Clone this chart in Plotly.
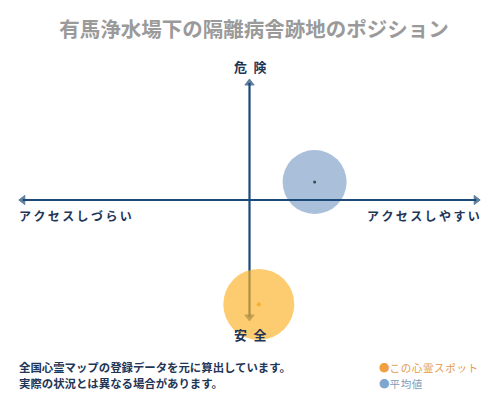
import plotly.graph_objects as go

# ---- data ----
series_names = ["この心霊スポット", "平均値"]
access_values = [0.04, 0.28]      # x: アクセスしづらい(-) ... アクセスしやすい(+)
danger_values = [-0.87, 0.15]     # y: 安全(-) ... 危険(+)
bubble_colors = ["rgba(252,178,40,0.66)", "rgba(134,164,201,0.7)"]
dot_colors = ["#f5a21f", "#111111"]

title_text = "有馬浄水場下の隔離病舎跡地のポジション"
label_top = "危\u2002険"
label_bottom = "安\u2002全"
label_left = "\u2009".join("アクセスしづらい")
label_right = "\u2009".join("アクセスしやすい")
footer_lines = ["全国心霊マップの登録データを元に算出しています。",
                "実際の状況とは異なる場合があります。"]

AXIS = "#1c4a78"
NAVY = "#1f3657"
FONT = "Noto Sans CJK JP"
OFF = 8  # page body margin offset

W, H = 500 - OFF, 400 - OFF
L, R = 17 - OFF, 482 - OFF
T, B = 80 - OFF, 320 - OFF

fig = go.Figure()

fig.add_trace(go.Scatter(x=[access_values[1]], y=[danger_values[1]], mode="markers",
                         marker=dict(size=64, color=bubble_colors[1], line=dict(width=0)),
                         cliponaxis=False, hoverinfo="skip", showlegend=False))

E = 0.975
fig.add_trace(go.Scatter(
    x=[0, E, None, 0, -E, None, 0, 0, None, 0, 0],
    y=[0, 0, None, 0, 0, None, 0, E, None, 0, -E],
    mode="lines+markers",
    line=dict(color=AXIS, width=2.2),
    marker=dict(symbol="triangle-up", angleref="previous",
                size=[0, 8, 0, 0, 8, 0, 0, 8, 0, 0, 8], color=AXIS,
                line=dict(width=1, color=AXIS)),
    cliponaxis=False, hoverinfo="skip", showlegend=False))

fig.add_trace(go.Scatter(x=[access_values[0]], y=[danger_values[0]], mode="markers",
                         marker=dict(size=71, color=bubble_colors[0], line=dict(width=0)),
                         cliponaxis=False, hoverinfo="skip", showlegend=False))

fig.add_trace(go.Scatter(x=access_values, y=danger_values, mode="markers",
                         marker=dict(size=[4, 3], color=dot_colors, symbol=["diamond", "circle"],
                                     line=dict(width=0)),
                         cliponaxis=False, hoverinfo="skip", showlegend=False))

ann = []
def A(text, x, y, size, color, xanchor="center", yanchor="middle"):
    ann.append(dict(text=text, x=x, y=y, xref="paper", yref="paper", showarrow=False,
                    xanchor=xanchor, yanchor=yanchor,
                    font=dict(family=FONT, size=size, color=color)))

def py(p):  # reference pixel row -> paper y
    return (B - (p - OFF)) / (B - T)

def px(p):  # reference pixel column -> paper x
    return ((p - OFF) - L) / (R - L)

A("<b>" + label_top + "</b>", px(250), py(67), 13, NAVY)
A("<b>" + label_bottom + "</b>", px(250), py(334), 13, NAVY)
A("<b>" + label_left + "</b>", px(17), py(215), 12, NAVY, xanchor="left")
A("<b>" + label_right + "</b>", px(482), py(215), 12, NAVY, xanchor="right")
A("<b>" + footer_lines[0] + "</b>", px(17), py(367), 11.4, NAVY, xanchor="left")
A("<b>" + footer_lines[1] + "</b>", px(17), py(383), 11.4, NAVY, xanchor="left")
A("<span style='color:#f0a040'>●</span>" + "\u200a".join(series_names[0]),
  px(377), py(367), 10.5, "#e49a4c", xanchor="left")
A("<span style='color:#7ea6cf'>●</span>" + "\u200a".join(series_names[1]),
  px(377), py(383), 10.5, "#7f9bb8", xanchor="left")

fig.update_layout(
    width=W, height=H,
    margin=dict(l=L, r=W - R, t=T, b=H - B),
    paper_bgcolor="white", plot_bgcolor="white",
    title=dict(text="<b>" + title_text + "</b>", x=0.5, xanchor="center",
               y=1 - (30 - OFF) / H, yref="container", yanchor="middle",
               font=dict(family=FONT, size=20.5, color="#9a9a9a")),
    xaxis=dict(range=[-1, 1], visible=False, fixedrange=True),
    yaxis=dict(range=[-1, 1], visible=False, fixedrange=True),
    annotations=ann,
    showlegend=False,
)

fig.write_html("out.html")
